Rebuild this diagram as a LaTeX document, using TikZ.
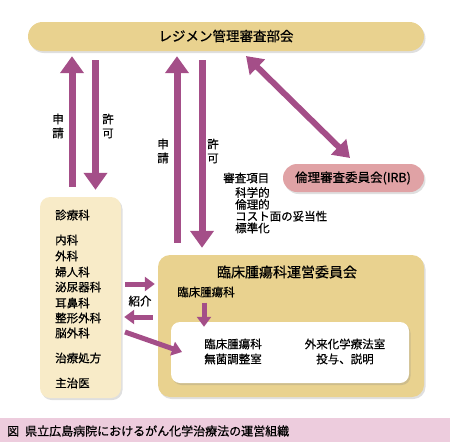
\documentclass[tikz,border=0pt]{standalone}
\usepackage{fontspec}
\newfontfamily\jp[FakeBold=0.6]{Noto Sans CJK JP}
\usetikzlibrary{arrows.meta,shadows}
\definecolor{barc}{HTML}{E9D28F}
\definecolor{leftc}{HTML}{F8EBC8}
\definecolor{irbc}{HTML}{E0A2A5}
\definecolor{arrc}{HTML}{A44E88}
\definecolor{capc}{HTML}{EDCCDD}
\tikzset{
  box/.style={rectangle, inner sep=0pt, drop shadow={opacity=0.25, shadow xshift=1.5pt, shadow yshift=-2pt}},
  txt/.style={font=\jp\fontsize{11.5}{12}\selectfont, inner sep=0pt, anchor=west},
  bigarr/.style={draw=arrc, line width=7pt, -{Triangle[width=23pt,length=17pt]}},
  dblarr/.style={draw=arrc, line width=6pt, {Triangle[width=21pt,length=16pt]}-{Triangle[width=21pt,length=16pt]}},
  smallarr/.style={draw=arrc, line width=5pt, -{Triangle[width=14pt,length=10pt]}},
}
\begin{document}
\begin{tikzpicture}[x=1pt,y=-1pt]
\useasboundingbox (0,0) rectangle (450,442);
% top bar
\node[box, fill=barc, rounded corners=14.5pt, minimum width=396pt, minimum height=29pt] (top) at (226,36.5) {};
\node[font=\jp\fontsize{13.5}{14}\selectfont, inner sep=0pt] (toptxt) at (226,36) {レジメン管理審査部会};
% IRB
\node[box, fill=irbc, rounded corners=14pt, minimum width=141pt, minimum height=28pt] (irb) at (353.5,178) {};
\node[font=\jp\fontsize{12.5}{13}\selectfont, inner sep=0pt] (irbtxt) at (353,178) {倫理審査委員会(IRB)};
% left box
\node[box, fill=leftc, rounded corners=10pt, minimum width=81pt, minimum height=201pt] (lb) at (80.5,297.5) {};
\node[txt] (s0) at (55,215) {診療科};
\node[txt] (s1) at (55,240) {内科};
\node[txt] (s2) at (55,256) {外科};
\node[txt] (s3) at (55,272) {婦人科};
\node[txt] (s4) at (55,287) {泌尿器科};
\node[txt] (s5) at (55,303) {耳鼻科};
\node[txt] (s6) at (55,318) {整形外科};
\node[txt] (s7) at (55,333) {脳外科};
\node[txt] (s8) at (55,358) {治療処方};
\node[txt] (s9) at (55,383) {主治医};
% right box
\node[box, fill=barc, rounded corners=12pt, minimum width=266pt, minimum height=142pt] (rb) at (291,326) {};
\node[font=\jp\fontsize{14}{15}\selectfont, inner sep=0pt] (rbtitle) at (287,272) {臨床腫瘍科運営委員会};
\node[txt] (onc) at (177,292) {臨床腫瘍科};
% white inner box
\node[box, fill=white, rounded corners=9pt, minimum width=238pt, minimum height=61pt] (wb) at (290,352.5) {};
\node[font=\jp\fontsize{11.5}{15}\selectfont, inner sep=0pt, align=center] (w1) at (233,351.5) {臨床腫瘍科\\無菌調整室};
\node[font=\jp\fontsize{11.5}{15}\selectfont, inner sep=0pt, align=center] (w2) at (345,351.5) {外来化学療法室\\投与、説明};
% review items
\node[txt] (r0) at (223,178) {審査項目};
\node[font=\jp\fontsize{11.5}{12}\selectfont, inner sep=0pt, anchor=north west, align=left] (r1) at (235,187) {科学的\\[-0.2pt]倫理的\\[-0.2pt]コスト面の妥当性\\[-0.2pt]標準化};
% labels
\node[font=\jp\fontsize{11.5}{14}\selectfont, inner sep=0pt, align=center] (l1) at (58,126) {申\\請};
\node[font=\jp\fontsize{11.5}{14}\selectfont, inner sep=0pt, align=center] (l2) at (108,126) {許\\可};
\node[font=\jp\fontsize{11.5}{14}\selectfont, inner sep=0pt, align=center] (l3) at (163,151) {申\\請};
\node[font=\jp\fontsize{11.5}{14}\selectfont, inner sep=0pt, align=center] (l4) at (213,151) {許\\可};
\node[font=\jp\fontsize{11.5}{12}\selectfont, inner sep=0pt] (l5) at (140,301) {紹介};
% big arrows
\coordinate (xa) at (72,0);
\coordinate (xb) at (95.5,0);
\coordinate (xc) at (177,0);
\coordinate (xd) at (202,0);
\draw[bigarr, shorten <=10pt, shorten >=5pt] (xa |- lb.north) -- (xa |- top.south);
\draw[bigarr, shorten <=9pt, shorten >=7pt] (xb |- top.south) -- (xb |- lb.north);
\draw[bigarr, shorten <=12pt, shorten >=5pt] (xc |- rb.north) -- (xc |- top.south);
\draw[bigarr, shorten <=9pt, shorten >=7pt] (xd |- top.south) -- (xd |- rb.north);
\coordinate (d1) at (246,56);
\coordinate (d2) at (350,158);
\draw[dblarr] (d1) -- (d2);
% small arrows
\coordinate (ya) at (0,284);
\coordinate (yb) at (0,317);
\draw[smallarr, shorten <=4pt, shorten >=3pt] (lb.east |- ya) -- (rb.west |- ya);
\draw[smallarr, shorten <=5pt, shorten >=3pt] (rb.west |- yb) -- (lb.east |- yb);
\coordinate (e1) at (125,332);
\coordinate (e2) at (182,352);
\draw[smallarr] (e1) -- (e2);
\coordinate (xo) at (204,0);
\draw[smallarr, shorten <=5pt, shorten >=-5pt] (xo |- onc.south) -- (xo |- wb.north);
% caption
\node[rectangle, fill=capc, minimum width=450pt, minimum height=24pt, inner sep=0pt] (cap) at (225,430) {};
\node[font=\jp\fontsize{12}{13}\selectfont, inner sep=0pt, anchor=west] (captxt) at (7,431) {図\hspace{0.5em}県立広島病院におけるがん化学治療法の運営組織};
\end{tikzpicture}
\end{document}
